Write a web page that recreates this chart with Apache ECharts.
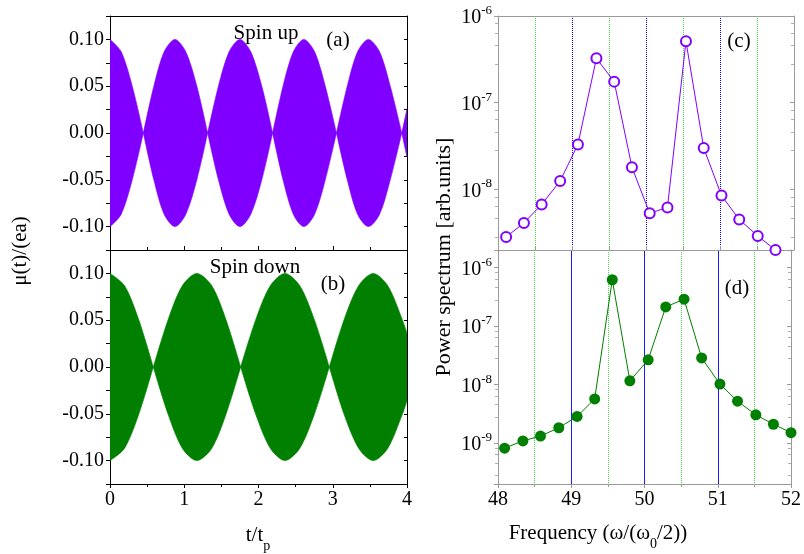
<!DOCTYPE html>
<html><head><meta charset="utf-8">
<script src="https://cdn.jsdelivr.net/npm/echarts@6/dist/echarts.min.js"></script>
<style>html,body{margin:0;padding:0;background:#fff}#c{width:804px;height:554px}</style>
</head><body><div id="c"></div>
<script>
// ---- Panel (a): spin up, envelope of the fast oscillation; null = break between lobes
const timeUp   = [0, 0.15, 0.30, 0.449, 0.449, 0.449, 0.59, 0.73, 0.875, 1.02, 1.17, 1.315, 1.315, 1.315, 1.46, 1.605, 1.75, 1.895, 2.045, 2.19, 2.19, 2.19, 2.33, 2.47, 2.61, 2.755, 2.90, 3.05, 3.05, 3.05, 3.195, 3.335, 3.48, 3.63, 3.775, 3.93, 3.93, 3.93, 4.0];
const envUpTop = [0.100, 0.087, 0.050, 0, null, 0, 0.050, 0.087, 0.100, 0.087, 0.050, 0, null, 0, 0.050, 0.087, 0.100, 0.087, 0.050, 0, null, 0, 0.050, 0.087, 0.100, 0.087, 0.050, 0, null, 0, 0.050, 0.087, 0.100, 0.087, 0.050, 0, null, 0, 0.026];
const envUpBot = [-0.100, -0.087, -0.050, 0, null, 0, -0.050, -0.087, -0.100, -0.087, -0.050, 0, null, 0, -0.050, -0.087, -0.100, -0.087, -0.050, 0, null, 0, -0.050, -0.087, -0.100, -0.087, -0.050, 0, null, 0, -0.050, -0.087, -0.100, -0.087, -0.050, 0, null, 0, -0.026];
// ---- Panel (b): spin down envelope
const timeDown   = [0, 0.195, 0.39, 0.583, 0.583, 0.583, 0.78, 0.975, 1.17, 1.37, 1.565, 1.76, 1.76, 1.76, 1.96, 2.16, 2.357, 2.555, 2.755, 2.954, 2.954, 2.954, 3.15, 3.35, 3.545, 3.74, 3.94, 4.0];
const envDownTop = [0.100, 0.087, 0.050, 0, null, 0, 0.050, 0.087, 0.100, 0.087, 0.050, 0, null, 0, 0.050, 0.087, 0.100, 0.087, 0.050, 0, null, 0, 0.050, 0.087, 0.100, 0.087, 0.050, 0.036];
const envDownBot = [-0.100, -0.087, -0.050, 0, null, 0, -0.050, -0.087, -0.100, -0.087, -0.050, 0, null, 0, -0.050, -0.087, -0.100, -0.087, -0.050, 0, null, 0, -0.050, -0.087, -0.100, -0.087, -0.050, -0.036];
// ---- Panel (c): power spectrum spin up
const freqUp  = [48.11, 48.35, 48.59, 48.84, 49.08, 49.33, 49.57, 49.81, 50.05, 50.29, 50.54, 50.78, 51.02, 51.26, 51.51, 51.75];
const powerUp = [2.83e-9, 4.1e-9, 6.7e-9, 1.25e-8, 3.3e-8, 3.25e-7, 1.75e-7, 1.8e-8, 5.3e-9, 6.2e-9, 5.1e-7, 3.0e-8, 8.5e-9, 4.5e-9, 2.9e-9, 2.0e-9];
// ---- Panel (d): power spectrum spin down
const freqDown  = [48.09, 48.34, 48.58, 48.83, 49.08, 49.32, 49.56, 49.80, 50.05, 50.29, 50.54, 50.78, 51.03, 51.27, 51.52, 51.76, 52.00];
const powerDown = [8.2e-10, 1.09e-9, 1.32e-9, 1.83e-9, 2.86e-9, 5.7e-9, 6.2e-7, 1.16e-8, 2.65e-8, 2.13e-7, 2.88e-7, 2.86e-8, 1.02e-8, 5.2e-9, 3.05e-9, 2.1e-9, 1.51e-9];
// ---- reference vertical lines
const greenLines = [48.5, 49.5, 50.5, 51.5];
const blueLines  = [49, 50, 51];

const FONT = 'Liberation Serif';
const PURPLE = '#8000ff';
const GREEN = '#007f00';
const NONE = 'rgba(0,0,0,0)';
const pair = (xs, ys) => xs.map((x, i) => [x, ys[i] === null ? '-' : ys[i]]);

const chart = echarts.init(document.getElementById('c'), null, {renderer: 'canvas'});

const grids = [
  {left: 110, top: 16, width: 297, height: 234},
  {left: 110, top: 250, width: 297, height: 234},
  {left: 498, top: 16, width: 296, height: 234},
  {left: 498, top: 250, width: 296, height: 234}
].map(g => Object.assign({show: false, containLabel: false}, g));

function linY(grid, showLabels) {
  return {
    type: 'value', gridIndex: grid, min: -0.125, max: 0.125, interval: 0.025,
    axisLine: {show: true, onZero: false, lineStyle: {color: '#000', width: 1}},
    axisTick: {show: true, inside: false, length: 4, lineStyle: {color: '#000'}},
    splitLine: {show: false},
    axisLabel: {show: showLabels, margin: 6, fontFamily: FONT, fontSize: 20, color: '#000',
      formatter: v => {
        const k = Math.round(v * 1000);
        if (Math.abs(k) > 100 || k % 50 !== 0) return '';
        if (k === 0) return '0.00';
        return (k / 1000).toFixed(2);
      }}
  };
}
function linYRight(grid) {
  return {
    type: 'value', gridIndex: grid, position: 'right', min: -0.125, max: 0.125, interval: 0.025,
    axisLine: {show: true, onZero: false, lineStyle: {color: '#000', width: 1}},
    axisTick: {show: true, inside: true, length: 3, lineStyle: {color: '#000'}},
    splitLine: {show: false}, axisLabel: {show: false}
  };
}
function logFmt(v) {
  const l = Math.log10(v), e = Math.round(l);
  if (Math.abs(l - e) > 1e-6) return '';
  return '{b|10}{s|' + e + '}';
}
function logY(grid, min, max) {
  return {
    type: 'log', logBase: 10, gridIndex: grid, min: min, max: max,
    axisLine: {show: true, onZero: false, lineStyle: {color: '#9a9a9a', width: 1}},
    axisTick: {show: true, inside: false, length: 4, lineStyle: {color: '#9a9a9a'}},
    minorTick: {show: true, splitNumber: 5, length: 3, lineStyle: {color: '#b0b0b0'}},
    splitLine: {show: false},
    axisLabel: {show: true, margin: 6, formatter: logFmt, showMinLabel: false, showMaxLabel: grid === 2,
      rich: {
        b: {fontFamily: FONT, fontSize: 20, color: '#000', lineHeight: 24, verticalAlign: 'bottom'},
        s: {fontFamily: FONT, fontSize: 13, color: '#000', lineHeight: 12, verticalAlign: 'top'}
      }}
  };
}
function logYRight(grid, min, max) {
  return {
    type: 'log', logBase: 10, gridIndex: grid, position: 'right', min: min, max: max,
    axisLine: {show: true, onZero: false, lineStyle: {color: '#9a9a9a', width: 1}},
    axisTick: {show: true, inside: true, length: 4, lineStyle: {color: '#9a9a9a'}},
    minorTick: {show: true, splitNumber: 5, length: 3, lineStyle: {color: '#b0b0b0'}},
    splitLine: {show: false}, axisLabel: {show: false}
  };
}

const yAxes = [
  linY(0, true), linYRight(0),
  linY(1, true), linYRight(1),
  logY(2, 2e-9, 1e-6), logYRight(2, 2e-9, 1e-6),
  logY(3, 2e-10, 2e-6), logYRight(3, 2e-10, 2e-6)
];

function xAx(grid, min, max, showLabels, color, topOf) {
  return {
    type: 'value', gridIndex: grid, min: min, max: max, interval: 1,
    axisLine: {show: true, onZero: false, lineStyle: {color: color, width: 1}},
    axisTick: {show: true, inside: topOf, length: 4, lineStyle: {color: color}},
    minorTick: {show: true, splitNumber: 2, length: 3, lineStyle: {color: color}},
    splitLine: {show: false},
    axisLabel: {show: showLabels, margin: 6, fontFamily: FONT, fontSize: 20, color: '#000'}
  };
}
function xTop(grid, min, max, color) {
  return {
    type: 'value', gridIndex: grid, min: min, max: max, interval: 1, position: 'top',
    axisLine: {show: true, onZero: false, lineStyle: {color: color, width: 1}},
    axisTick: {show: false}, splitLine: {show: false}, axisLabel: {show: false}
  };
}
// hidden axis whose split lines draw the reference vertical lines at the listed frequencies
function refAxis(grid, values, color, type) {
  const colors = [];
  for (let i = 0; i <= 8; i++) {
    const tick = 48 + 0.5 * i;
    colors.push(values.indexOf(tick) >= 0 ? color : NONE);
  }
  return {
    type: 'value', gridIndex: grid, min: 48, max: 52, interval: 0.5, position: 'bottom', offset: 0,
    axisLine: {show: false, onZero: false}, axisTick: {show: false}, axisLabel: {show: false},
    splitLine: {show: true, lineStyle: {color: colors, type: type, width: 1}}
  };
}
const xAxes = [
  xAx(0, 0, 4, false, '#000', true), xTop(0, 0, 4, '#000'),
  xAx(1, 0, 4, true, '#000', false),
  xAx(2, 48, 52, false, '#9a9a9a', true), xTop(2, 48, 52, '#9a9a9a'),
  xAx(3, 48, 52, true, '#9a9a9a', false),
  refAxis(2, greenLines, '#3fdc3f', 'dotted'),
  refAxis(2, blueLines, '#0000ff', 'dotted'),
  refAxis(3, greenLines, '#3fdc3f', 'dotted'),
  refAxis(3, blueLines, '#1a1aff', 'solid')
];

function envSeries(xi, yi, xs, ys, color) {
  return {
    type: 'line', xAxisIndex: xi, yAxisIndex: yi, data: pair(xs, ys),
    smooth: 0.3, connectNulls: false, symbol: 'none', silent: true, animation: false,
    lineStyle: {width: 0.6, color: color}, areaStyle: {color: color, opacity: 1}
  };
}

const series = [
  envSeries(0, 0, timeUp, envUpTop, PURPLE),
  envSeries(0, 0, timeUp, envUpBot, PURPLE),
  envSeries(2, 2, timeDown, envDownTop, GREEN),
  envSeries(2, 2, timeDown, envDownBot, GREEN),
  {
    type: 'line', xAxisIndex: 3, yAxisIndex: 4, data: pair(freqUp, powerUp), z: 3, animation: false,
    symbol: 'emptyCircle', symbolSize: 10, showAllSymbol: true,
    lineStyle: {color: PURPLE, width: 1}, itemStyle: {color: PURPLE, borderColor: PURPLE, borderWidth: 1.2}
  },
  {
    type: 'line', xAxisIndex: 5, yAxisIndex: 6, data: pair(freqDown, powerDown), z: 3, animation: false,
    symbol: 'circle', symbolSize: 11, showAllSymbol: true,
    lineStyle: {color: GREEN, width: 1}, itemStyle: {color: GREEN}
  }
];

const txt = (x, y, text, size, align, extra) => Object.assign({
  type: 'text', x: x, y: y, silent: true,
  style: {text: text, fontFamily: FONT, fontSize: size, fill: '#000', textAlign: align || 'center', textVerticalAlign: 'middle'}
}, extra || {});
const subRich = {
  a: {fontFamily: FONT, fontSize: 21, fill: '#000', lineHeight: 24, verticalAlign: 'top'},
  b: {fontFamily: FONT, fontSize: 14, fill: '#000', lineHeight: 14, verticalAlign: 'top', padding: [14, 0, 0, 0]}
};

const graphic = [
  txt(266, 33, 'Spin up', 21),
  txt(338, 40, '(a)', 21),
  txt(255, 267, 'Spin down', 21),
  txt(333, 284, '(b)', 21),
  txt(739, 41, '(c)', 21),
  txt(737, 288, '(d)', 21),
  txt(20, 251, 'μ(t)/(ea)', 21, 'center', {rotation: Math.PI / 2}),
  txt(444, 257, 'Power spectrum [arb.units]', 22, 'center', {rotation: Math.PI / 2}),
  {type: 'text', x: 258, y: 537, silent: true, style: {
    text: '{a|t/t}{b|p}', textAlign: 'center', textVerticalAlign: 'middle', rich: subRich}},
  {type: 'text', x: 598, y: 535, silent: true, style: {
    text: '{a|Frequency (ω/(ω}{b|0}{a|/2))}', textAlign: 'center', textVerticalAlign: 'middle', rich: subRich}}
];

chart.setOption({
  animation: false,
  backgroundColor: '#fff',
  grid: grids,
  xAxis: xAxes,
  yAxis: yAxes,
  series: series,
  graphic: graphic
});
</script></body></html>
